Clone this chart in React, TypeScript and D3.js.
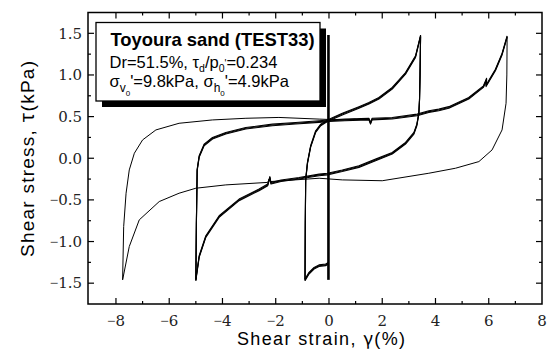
import * as React from 'react';
import * as d3 from 'd3';

// shear strain (%) / shear stress (kPa) pairs
const firstCycles: [number, number][] = [[-0.02, -1.46], [-0.02, 1.48]];

const hookDown: [number, number][] = [
  [-0.02, -1.26], [-0.125, -1.28], [-0.375, -1.29], [-0.56, -1.32], [-0.75, -1.38], [-0.9, -1.46],
];

const toFirstPeak: [number, number][] = [
  [-0.9, -1.46], [-0.89, -0.8], [-0.875, -0.26], [-0.81, -0.06], [-0.69, 0.14], [-0.5, 0.32],
  [-0.31, 0.4], [-0.06, 0.45], [0.5, 0.53], [1.125, 0.61], [1.5, 0.66], [1.875, 0.72],
  [2.375, 0.84], [2.875, 1.02], [3.25, 1.22], [3.44, 1.47],
];

const toMinus5: [number, number][] = [
  [3.44, 1.47], [3.42, 1.0], [3.4, 0.7], [3.375, 0.54], [3.3, 0.4], [3.19, 0.3], [2.875, 0.18],
  [2.375, 0.06], [1.75, -0.02], [1.125, -0.1], [0.5, -0.15], [-0.06, -0.19], [-0.37, -0.2],
  [-1.125, -0.24], [-1.8, -0.27], [-2.18, -0.3], [-2.22, -0.23], [-2.3, -0.32], [-2.625, -0.38],
  [-3.375, -0.5], [-4.125, -0.7], [-4.625, -0.94], [-4.875, -1.18], [-5.0, -1.46],
];

const toSecondPeak: [number, number][] = [
  [-5.0, -1.46], [-4.98, -0.8], [-4.95, -0.14], [-4.875, 0.02], [-4.69, 0.16], [-4.375, 0.24],
  [-3.875, 0.3], [-3.125, 0.36], [-2.125, 0.4], [-1.25, 0.42], [-0.375, 0.44], [0.0, 0.45],
  [0.6, 0.46], [1.5, 0.47], [1.56, 0.42], [1.62, 0.47], [2.375, 0.48], [3.31, 0.52],
  [3.75, 0.56], [4.125, 0.58], [4.5, 0.61], [5.25, 0.72], [5.8, 0.86], [5.92, 0.95],
  [5.9, 0.87], [6.25, 1.06], [6.5, 1.25], [6.69, 1.46],
];

const toMinus8: [number, number][] = [
  [6.69, 1.46], [6.68, 1.0], [6.65, 0.66], [6.5, 0.34], [6.125, 0.1], [5.63, -0.04],
  [4.75, -0.12], [3.75, -0.18], [2.0, -0.27], [0.5, -0.26], [-0.37, -0.24], [-2.2, -0.28],
  [-2.25, -0.25], [-2.3, -0.29], [-3.875, -0.32], [-5.0, -0.36], [-5.63, -0.42],
  [-6.375, -0.52], [-7.125, -0.74], [-7.5, -1.06], [-7.75, -1.46],
];

const lastBranch: [number, number][] = [
  [-7.75, -1.46], [-7.71, -0.82], [-7.62, -0.42], [-7.5, -0.14], [-7.31, 0.06], [-7.0, 0.22],
  [-6.5, 0.34], [-5.63, 0.42], [-4.38, 0.46], [-3.12, 0.48], [-1.88, 0.49], [-0.37, 0.47],
  [0.5, 0.46], [1.0, 0.47],
];

const thickSeries = [hookDown, toFirstPeak, toMinus5, toSecondPeak];
const thinSeries = [toMinus8, lastBranch];

const xLabels = [-8, -6, -4, -2, 0, 2, 4, 6, 8];
const yLabels = [-1.5, -1.0, -0.5, 0.0, 0.5, 1.0, 1.5];

const W = 558;
const H = 356;

function App() {
  const x = d3.scaleLinear().domain([-9.05, 8]).range([88, 542]);
  const y = d3.scaleLinear().domain([-1.75, 1.75]).range([304, 12.5]);
  const line = d3.line<[number, number]>().x(d => x(d[0])).y(d => y(d[1]));

  const xMinor = d3.range(-7, 8, 2);
  const yMinor = d3.range(-1.25, 1.3, 0.5);
  const fmtY = d3.format('.1f');
  const fmtX = d3.format('d');

  const label = (s: string) =>
    s[0] === '\u2212'
      ? [<tspan key="m" fontFamily="Liberation Serif">{'\u2212'}</tspan>, <tspan key="r">{s.slice(1)}</tspan>]
      : s;

  const [x0, x1] = x.range();
  const [y0, y1] = y.range();

  return (
    <div style={{ position: 'absolute', left: 0, top: 0 }}>
      <svg width={W} height={H} style={{ display: 'block', background: '#fff' }}>
        {/* curves */}
        <path d={line(firstCycles) || ''} fill="none" stroke="#000" strokeWidth={2.6} />
        {thickSeries.map((s, i) =>
          [-0.8, 0, 0.8].map(dy => (
            <path key={i + '_' + dy} d={line(s) || ''} transform={`translate(0,${dy})`}
              fill="none" stroke="#000" strokeWidth={1.1} strokeLinejoin="round" />
          ))
        )}
        {thinSeries.map((s, i) => (
          <path key={'t' + i} d={line(s) || ''} fill="none" stroke="#000" strokeWidth={1} strokeLinejoin="round" />
        ))}

        {/* frame */}
        <rect x={x0} y={y1} width={x1 - x0} height={y0 - y1} fill="none" stroke="#000" strokeWidth={1.5} />
        {xLabels.filter(v => v > -9 && v < 8).map(v => (
          <g key={'xt' + v}>
            <line x1={x(v)} x2={x(v)} y1={y0} y2={y0 - 6} stroke="#000" strokeWidth={1.2} />
            <line x1={x(v)} x2={x(v)} y1={y1} y2={y1 + 6} stroke="#000" strokeWidth={1.2} />
          </g>
        ))}
        {xMinor.map(v => (
          <g key={'xm' + v}>
            <line x1={x(v)} x2={x(v)} y1={y0} y2={y0 - 3} stroke="#000" strokeWidth={1.2} />
            <line x1={x(v)} x2={x(v)} y1={y1} y2={y1 + 3} stroke="#000" strokeWidth={1.2} />
          </g>
        ))}
        {yLabels.map(v => (
          <g key={'yt' + v}>
            <line x1={x0} x2={x0 + 6} y1={y(v)} y2={y(v)} stroke="#000" strokeWidth={1.2} />
            <line x1={x1} x2={x1 - 6} y1={y(v)} y2={y(v)} stroke="#000" strokeWidth={1.2} />
          </g>
        ))}
        {yMinor.map(v => (
          <g key={'ym' + v}>
            <line x1={x0} x2={x0 + 3} y1={y(v)} y2={y(v)} stroke="#000" strokeWidth={1.2} />
            <line x1={x1} x2={x1 - 3} y1={y(v)} y2={y(v)} stroke="#000" strokeWidth={1.2} />
          </g>
        ))}

        {/* tick labels */}
        <g fontFamily="DejaVu Serif" fontSize={15} fill="#222">
          {xLabels.map(v => (
            <text key={'xl' + v} x={x(v)} y={326} textAnchor="middle">{label(fmtX(v))}</text>
          ))}
          {yLabels.map(v => (
            <text key={'yl' + v} x={82} y={y(v) + 5.3} textAnchor="end">{label(fmtY(v))}</text>
          ))}
        </g>

        {/* axis titles */}
        <text x={321} y={345} textAnchor="middle" fontFamily="Liberation Sans" fontSize={18}
          textLength={168} lengthAdjust="spacing">
          Shear strain, <tspan fontFamily="Noto Sans CJK JP">γ</tspan>(%)
        </text>
        <text transform={`translate(34,159) rotate(-90)`} textAnchor="middle" fontFamily="Liberation Sans"
          fontSize={19} textLength={196} lengthAdjust="spacing">
          Shear stress, <tspan fontFamily="Noto Sans CJK JP">τ</tspan>(kPa)
        </text>

        {/* info box */}
        <rect x={102} y={28.5} width={224} height={78.5} fill="#000" />
        <rect x={96} y={22.5} width={224} height={78.5} fill="#fff" stroke="#000" strokeWidth={1.3} />
        <g fontFamily="Liberation Sans" fontSize={16.5} fill="#000">
          <text x={110.5} y={46} fontWeight="bold" fontSize={18.4}>Toyoura sand (TEST33)</text>
          <text x={109.5} y={68.2}>
            Dr=51.5%, τ<tspan fontSize={10.5} dy={4}>d</tspan><tspan dy={-4}>/p</tspan>
            <tspan fontSize={10.5} dy={4}>0</tspan><tspan fontSize={10} dy={-5}>'</tspan>
            <tspan dy={1}>=0.234</tspan>
          </text>
          <text x={109.5} y={86.5}>
            σ<tspan fontSize={12} dy={5}>v</tspan><tspan fontSize={8} dy={4}>0</tspan>
            <tspan dy={-9}>'=9.8kPa, σ</tspan><tspan fontSize={12} dy={5}>h</tspan>
            <tspan fontSize={8} dy={4}>0</tspan><tspan dy={-9}>'=4.9kPa</tspan>
          </text>
        </g>
      </svg>
    </div>
  );
}

export default App;
